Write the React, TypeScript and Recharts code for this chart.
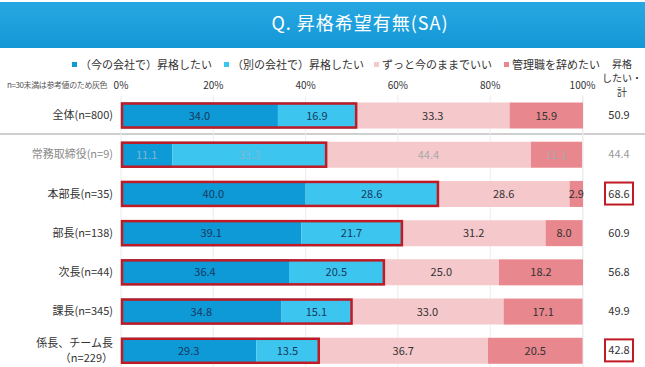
import React from 'react';
import { BarChart, Bar, XAxis, YAxis, CartesianGrid, Legend, LabelList } from 'recharts';

// 行ラベル・系列値（％）
const categories = ['全体(n=800)', '常務取締役(n=9)', '本部長(n=35)', '部長(n=138)', '次長(n=44)', '課長(n=345)', '係長、チーム長|（n=229）'];
const promoteHere = [34.0, 11.1, 40.0, 39.1, 36.4, 34.8, 29.3];
const promoteElse = [16.9, 33.3, 28.6, 21.7, 20.5, 15.1, 13.5];
const stayAsIs = [33.3, 44.4, 28.6, 31.2, 25.0, 33.0, 36.7];
const quitManager = [15.9, 11.1, 2.9, 8.0, 18.2, 17.1, 20.5];
const promoteTotal = [50.9, 44.4, 68.6, 60.9, 56.8, 49.9, 42.8];
const referenceOnly = [false, true, false, false, false, false, false];
const highlighted = [false, false, true, false, false, false, true];
const xTicks = [0, 20, 40, 60, 80, 100];

const seriesNames = ['（今の会社で）昇格したい', '（別の会社で）昇格したい', 'ずっと今のままでいい', '管理職を辞めたい'];
const COLORS = ['#0e9ad7', '#3cc6ef', '#f5c8cb', '#e8878d'];
const OUTLINE = '#c01a24';
const FONT = '"Noto Sans CJK JP", "Noto Sans", sans-serif';

const data = categories.map((name, i) => ({
  name,
  here: promoteHere[i],
  other: promoteElse[i],
  stay: stayAsIs[i],
  quit: quitManager[i],
}));

const rowIndex = (name: string) => categories.indexOf(name);

const makeLabel = (onBlue: boolean) => (props: any) => {
  const { x, y, width, height, value, index } = props;
  const grey = referenceOnly[index];
  const fill = grey ? (onBlue ? '#7fb6cf' : '#a9a9a9') : onBlue ? '#16395f' : '#333';
  return (
    <text x={x + width / 2} y={y + height / 2 + 4} textAnchor="middle" fontSize={11} fill={fill} fontFamily={FONT}>
      {Number(value).toFixed(1)}
    </text>
  );
};

const LeftTick = (props: any) => {
  const { x, y, payload } = props;
  const i = rowIndex(payload.value);
  const lines = String(payload.value).split('|');
  const fill = referenceOnly[i] ? '#8a8a8a' : '#333';
  const lh = 15;
  const startY = y - ((lines.length - 1) * lh) / 2 + 4;
  return (
    <text x={x} y={startY} textAnchor="end" fontSize={11} fill={fill} fontFamily={FONT}>
      {lines.map((l, k) => (
        <tspan key={k} x={x} dy={k === 0 ? 0 : lh}>
          {l}
        </tspan>
      ))}
    </text>
  );
};

const RightTick = (props: any) => {
  const { y, payload } = props;
  const i = rowIndex(payload.value);
  const cx = 619;
  return (
    <g>
      {highlighted[i] && <rect x={cx - 14} y={y - 11} width={28} height={22} fill="#fff" stroke={OUTLINE} strokeWidth={2} />}
      <text x={cx} y={y + 4} textAnchor="middle" fontSize={11} fill={referenceOnly[i] ? '#9a9a9a' : '#333'} fontFamily={FONT}>
        {promoteTotal[i].toFixed(1)}
      </text>
    </g>
  );
};

// 4本目の棒の描画時に「昇格したい」合計部分の赤枠も描く
const QuitShape = (props: any) => {
  const { x, y, width, height, background, payload } = props;
  const bx = background ? background.x : 121;
  const bw = background ? background.width : 462;
  const w = (bw * (payload.here + payload.other)) / 100;
  return (
    <g>
      <rect x={x} y={y} width={width} height={height} fill={COLORS[3]} />
      <rect x={bx + 1} y={y + 1} width={w - 1} height={height - 2} fill="none" stroke={OUTLINE} strokeWidth={2.5} />
    </g>
  );
};

const LegendContent = () => (
  <div style={{ display: 'flex', fontFamily: FONT, fontSize: 11, color: '#333', whiteSpace: 'nowrap' }}>
    {seriesNames.map((n, i) => (
      <span key={n} style={{ display: 'flex', alignItems: 'center', marginRight: i === 1 ? 10 : 12 }}>
        <span style={{ width: 5, height: 5, background: COLORS[i], display: 'inline-block', marginRight: 3 }} />
        {n}
      </span>
    ))}
  </div>
);

export default function App() {
  return (
    <div style={{ position: 'absolute', left: 0, top: 0, width: 645, height: 367, overflow: 'hidden', background: '#fff', fontFamily: FONT }}>
      <div
        style={{
          position: 'absolute', left: 0, top: 2, width: 645, height: 46,
          background: 'linear-gradient(#27a8e2, #1497d6)',
        }}
      />
      <div style={{ position: 'absolute', left: 0, top: 9, width: 720, textAlign: 'center', color: '#fff', fontSize: 18, letterSpacing: 1 }}>
        Q.&nbsp;昇格希望有無(SA)
      </div>
      <div style={{ position: 'absolute', left: 7, top: 79, fontSize: 8, color: '#555', letterSpacing: -0.4 }}>n=30未満は参考値のため灰色</div>
      <div style={{ position: 'absolute', left: 600, top: 57, width: 44, textAlign: 'center', fontSize: 10, lineHeight: '14px', color: '#333' }}>
        昇格<br />したい・<br />計
      </div>
      <div style={{ position: 'absolute', left: 0, top: 133, width: 645, height: 2, background: '#cfcfcf' }} />
      <div style={{ position: 'absolute', left: 0, top: 0 }}>
        <BarChart
          width={645}
          height={380}
          data={data}
          layout="vertical"
          barSize={26}
          margin={{ top: 75.5, right: 0, bottom: 10, left: 0 }}
        >
          <CartesianGrid horizontal={false} stroke="#ececec" />
          <XAxis
            type="number"
            orientation="top"
            domain={[0, 100]}
            ticks={xTicks}
            tickFormatter={(v) => `${v}%`}
            axisLine={false}
            tickLine={false}
            tickSize={0}
            tickMargin={7}
            height={20}
            tick={{ fontSize: 10, fill: '#333', fontFamily: FONT }}
            interval={0}
          />
          <YAxis type="category" dataKey="name" width={121} axisLine={false} tickLine={false} tickSize={0} tickMargin={8} tick={<LeftTick />} interval={0} />
          <YAxis yAxisId="r" type="category" dataKey="name" orientation="right" width={62} axisLine={false} tickLine={false} tick={<RightTick />} interval={0} />
          <Legend
            layout="horizontal"
            verticalAlign="middle"
            align="center"
            content={<LegendContent />}
            wrapperStyle={{ top: 56, left: 72, width: 520, height: 16 }}
          />
          <Bar dataKey="here" stackId="a" fill={COLORS[0]} name={seriesNames[0]} isAnimationActive={false}>
            <LabelList dataKey="here" content={makeLabel(true)} />
          </Bar>
          <Bar dataKey="other" stackId="a" fill={COLORS[1]} name={seriesNames[1]} isAnimationActive={false}>
            <LabelList dataKey="other" content={makeLabel(true)} />
          </Bar>
          <Bar dataKey="stay" stackId="a" fill={COLORS[2]} name={seriesNames[2]} isAnimationActive={false}>
            <LabelList dataKey="stay" content={makeLabel(false)} />
          </Bar>
          <Bar dataKey="quit" stackId="a" fill={COLORS[3]} name={seriesNames[3]} shape={<QuitShape />} isAnimationActive={false}>
            <LabelList dataKey="quit" content={makeLabel(false)} />
          </Bar>
        </BarChart>
      </div>
    </div>
  );
}
